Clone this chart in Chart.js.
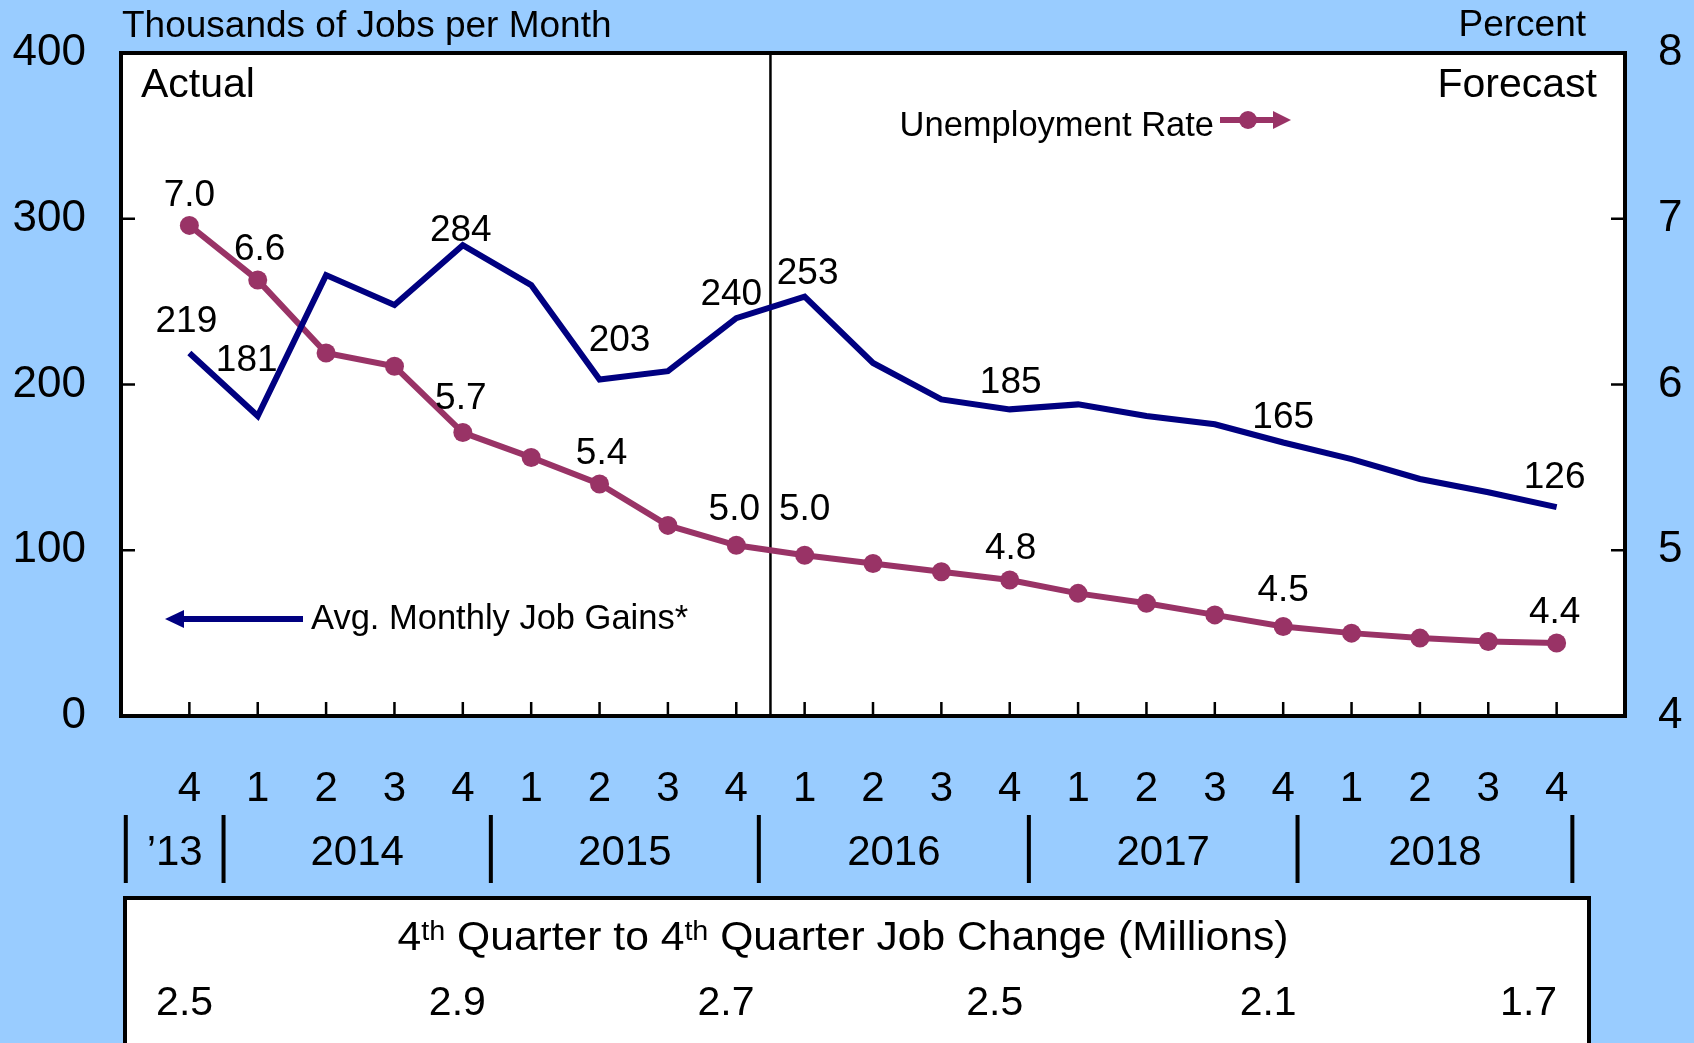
<!DOCTYPE html>
<html>
<head>
<meta charset="utf-8">
<script src="https://cdn.jsdelivr.net/npm/chart.js@4.4.0/dist/chart.umd.min.js"></script>
<style>
  html, body { margin: 0; padding: 0; background: #99ccff; }
  canvas { display: block; }
</style>
</head>
<body>
<canvas id="chart" width="1694" height="1043"></canvas>
<script>
// quarters from Q4 2013 to Q4 2018
const quarters = ['4', '1', '2', '3', '4', '1', '2', '3', '4', '1', '2', '3', '4', '1', '2', '3', '4', '1', '2', '3', '4'];
const years = ['\u201913', '2014', '2015', '2016', '2017', '2018'];
// average monthly job gains, thousands (left axis)
const jobGains = [219, 181, 266, 248, 284, 260, 203, 208, 240, 253, 213, 191, 185, 188, 181, 176, 165, 155, 143, 135, 126];
// unemployment rate, percent (right axis)
const unemployment = [6.96, 6.63, 6.19, 6.11, 5.71, 5.56, 5.40, 5.15, 5.03, 4.97, 4.92, 4.87, 4.82, 4.74, 4.68, 4.61, 4.54, 4.50, 4.47, 4.45, 4.44];
// 4th quarter to 4th quarter job change, millions
const jobChange = [2.5, 2.9, 2.7, 2.5, 2.1, 1.7];
// points that carry a value label
const labeledPoints = [0, 1, 4, 6, 8, 9, 12, 16, 20];
const lastActual = 8; // Q4 2015, forecast starts after it

const F = '"Liberation Sans", Arial, Helvetica, sans-serif';
const BLUE = '#000080', MAROON = '#993366', BG = '#99ccff';

// label nudges in px (dx, dy from the point)
const jobLabelOffsets = {0: [-3, -31], 1: [-11, -55], 4: [-2, -14], 6: [20, -39], 8: [-5, -23], 9: [3, -23], 12: [1, -27], 16: [0, -25], 20: [-2, -29]};
const rateLabelOffsets = {0: [0, -30], 1: [2, -30], 4: [-2, -34], 6: [2, -30], 8: [-2, -35], 9: [0, -45], 12: [1, -31], 16: [0, -36], 20: [-2, -30]};
// year separators and table values, in quarter-index units
const yearSeps = [-0.93, 0.5, 4.41, 8.33, 12.28, 16.21, 20.23];
const changePos = [-0.07, 3.92, 7.85, 11.78, 15.78, 19.59];

const framePlugin = {
    id: 'frame',
    beforeDraw(chart) {
        const {ctx, chartArea: a} = chart;
        ctx.save();
        ctx.fillStyle = BG;
        ctx.fillRect(0, 0, chart.width, chart.height);
        ctx.fillStyle = '#fff';
        ctx.fillRect(a.left, a.top, a.right - a.left, a.bottom - a.top);
        ctx.restore();
    },
    beforeDatasetsDraw(chart) {
        const {ctx, chartArea: a, scales} = chart;
        ctx.save();
        ctx.strokeStyle = '#000';
        ctx.lineWidth = 2.5;
        ctx.beginPath();
        quarters.forEach((q, i) => {
            const px = scales.x.getPixelForValue(i);
            ctx.moveTo(px, a.bottom);
            ctx.lineTo(px, a.bottom - 14);
        });
        scales.y.ticks.forEach(t => {
            const py = scales.y.getPixelForValue(t.value);
            ctx.moveTo(a.left, py);
            ctx.lineTo(a.left + 14, py);
        });
        scales.y2.ticks.forEach(t => {
            const py = scales.y2.getPixelForValue(t.value);
            ctx.moveTo(a.right, py);
            ctx.lineTo(a.right - 14, py);
        });
        ctx.stroke();

        // actual / forecast divider
        const dx = scales.x.getPixelForValue(lastActual + 0.5);
        ctx.lineWidth = 2.5;
        ctx.beginPath();
        ctx.moveTo(dx, a.top);
        ctx.lineTo(dx, a.bottom);
        ctx.stroke();

        ctx.lineWidth = 4;
        ctx.strokeRect(a.left, a.top, a.right - a.left, a.bottom - a.top);
        ctx.restore();
    }
};

const labelPlugin = {
    id: 'pointLabels',
    afterDatasetsDraw(chart) {
        const ctx = chart.ctx;
        ctx.save();
        ctx.font = '37px ' + F;
        ctx.fillStyle = '#000';
        ctx.textAlign = 'center';
        ctx.textBaseline = 'middle';
        const sets = [
            [0, jobGains, jobLabelOffsets, v => String(v)],
            [1, unemployment, rateLabelOffsets, v => v.toFixed(1)]
        ];
        sets.forEach(([di, values, offs, fmt]) => {
            const meta = chart.getDatasetMeta(di);
            labeledPoints.forEach(i => {
                const el = meta.data[i];
                ctx.fillText(fmt(values[i]), el.x + offs[i][0], el.y + offs[i][1]);
            });
        });
        ctx.restore();
    }
};

const extrasPlugin = {
    id: 'extras',
    afterDraw(chart) {
        const {ctx, chartArea: a, scales} = chart;
        const x = scales.x;
        ctx.save();
        ctx.fillStyle = '#000';
        ctx.textBaseline = 'alphabetic';

        // axis titles and panel captions
        ctx.font = '37px ' + F;
        ctx.textAlign = 'left';
        ctx.fillText('Thousands of Jobs per Month', 122, 37);
        ctx.textAlign = 'right';
        ctx.fillText('Percent', 1586, 36);
        ctx.font = '41px ' + F;
        ctx.textAlign = 'left';
        ctx.fillText('Actual', 141, 97);
        ctx.textAlign = 'right';
        ctx.fillText('Forecast', 1597, 97);

        // series captions with arrows
        ctx.font = '34.5px ' + F;
        ctx.fillText('Unemployment Rate', 1214, 136);
        ctx.strokeStyle = MAROON;
        ctx.fillStyle = MAROON;
        ctx.lineWidth = 6;
        ctx.beginPath();
        ctx.moveTo(1220, 120);
        ctx.lineTo(1276, 120);
        ctx.stroke();
        ctx.beginPath();
        ctx.arc(1248, 120, 9, 0, Math.PI * 2);
        ctx.fill();
        ctx.beginPath();
        ctx.moveTo(1273, 111);
        ctx.lineTo(1291, 120);
        ctx.lineTo(1273, 129);
        ctx.closePath();
        ctx.fill();

        ctx.strokeStyle = BLUE;
        ctx.fillStyle = BLUE;
        ctx.beginPath();
        ctx.moveTo(180, 619);
        ctx.lineTo(303, 619);
        ctx.stroke();
        ctx.beginPath();
        ctx.moveTo(165, 619);
        ctx.lineTo(184, 610);
        ctx.lineTo(184, 628);
        ctx.closePath();
        ctx.fill();
        ctx.fillStyle = '#000';
        ctx.font = '34.5px ' + F;
        ctx.textAlign = 'left';
        ctx.fillText('Avg. Monthly Job Gains*', 311, 629);

        // year row
        ctx.strokeStyle = '#000';
        ctx.lineWidth = 4;
        ctx.beginPath();
        const sepPx = yearSeps.map(v => x.getPixelForValue(v));
        sepPx.forEach(px => {
            ctx.moveTo(px, 815);
            ctx.lineTo(px, 883);
        });
        ctx.stroke();
        ctx.font = '42px ' + F;
        ctx.textAlign = 'center';
        ctx.textBaseline = 'middle';
        years.forEach((y, i) => {
            ctx.fillText(y, (sepPx[i] + sepPx[i + 1]) / 2, 853);
        });

        // job change table
        const tl = 125, tt = 898, tr = 1589;
        ctx.fillStyle = '#fff';
        ctx.fillRect(tl, tt, tr - tl, 200);
        ctx.lineWidth = 4;
        ctx.strokeRect(tl, tt, tr - tl, 200);
        ctx.fillStyle = '#000';

        const parts = [
            ['4', 40, 0], ['th', 27, -10], [' Quarter to 4', 40, 0], ['th', 27, -10], [' Quarter Job Change (Millions)', 40, 0]
        ];
        ctx.textAlign = 'left';
        ctx.textBaseline = 'alphabetic';
        let total = 0;
        parts.forEach(p => {
            ctx.font = p[1] + 'px ' + F;
            total += ctx.measureText(p[0]).width;
        });
        const sx = 1.065;
        ctx.save();
        ctx.translate(843 - total * sx / 2, 950);
        ctx.scale(sx, 1);
        let cx = 0;
        parts.forEach(p => {
            ctx.font = p[1] + 'px ' + F;
            ctx.fillText(p[0], cx, p[2]);
            cx += ctx.measureText(p[0]).width;
        });
        ctx.restore();

        ctx.font = '41px ' + F;
        ctx.textAlign = 'center';
        jobChange.forEach((v, i) => {
            ctx.fillText(v.toFixed(1), x.getPixelForValue(changePos[i]), 1015);
        });
        ctx.restore();
    }
};

// keep the plot frame where the original sits: no extra label padding
const fixV = w => s => { s.width = w; s.paddingTop = 0; s.paddingBottom = 0; };

new Chart(document.getElementById('chart'), {
    type: 'line',
    data: {
        datasets: [
            {
                label: 'Avg. Monthly Job Gains*',
                data: jobGains.map((v, i) => ({x: i, y: v})),
                yAxisID: 'y',
                borderColor: BLUE,
                borderWidth: 6,
                borderJoinStyle: 'miter',
                pointRadius: 0,
                tension: 0
            },
            {
                label: 'Unemployment Rate',
                data: unemployment.map((v, i) => ({x: i, y: v})),
                yAxisID: 'y2',
                borderColor: MAROON,
                backgroundColor: MAROON,
                borderWidth: 6,
                pointRadius: 9.5,
                pointBorderWidth: 0,
                pointBackgroundColor: MAROON,
                tension: 0
            }
        ]
    },
    options: {
        responsive: false,
        animation: false,
        devicePixelRatio: 1,
        layout: {padding: {top: 53, left: 0, right: 0, bottom: 0}},
        plugins: {legend: {display: false}, tooltip: {enabled: false}},
        scales: {
            x: {
                type: 'linear',
                min: -1,
                max: 21,
                afterFit: s => { s.height = 327; s.paddingLeft = 0; s.paddingRight = 0; },
                grid: {display: false, drawTicks: false},
                border: {display: false},
                ticks: {
                    stepSize: 1,
                    autoSkip: false,
                    maxRotation: 0,
                    padding: 48,
                    color: '#000',
                    font: {family: F, size: 42},
                    callback: v => quarters[Math.round(v)] ?? ''
                }
            },
            y: {
                position: 'left',
                min: 0,
                max: 400,
                afterFit: fixV(121),
                grid: {display: false, drawTicks: false},
                border: {display: false},
                ticks: {stepSize: 100, padding: 35, color: '#000', font: {family: F, size: 44}}
            },
            y2: {
                position: 'right',
                min: 4,
                max: 8,
                afterFit: fixV(69),
                grid: {display: false, drawTicks: false},
                border: {display: false},
                ticks: {stepSize: 1, padding: 33, color: '#000', font: {family: F, size: 44}}
            }
        }
    },
    plugins: [framePlugin, labelPlugin, extrasPlugin]
});
</script>
</body>
</html>
